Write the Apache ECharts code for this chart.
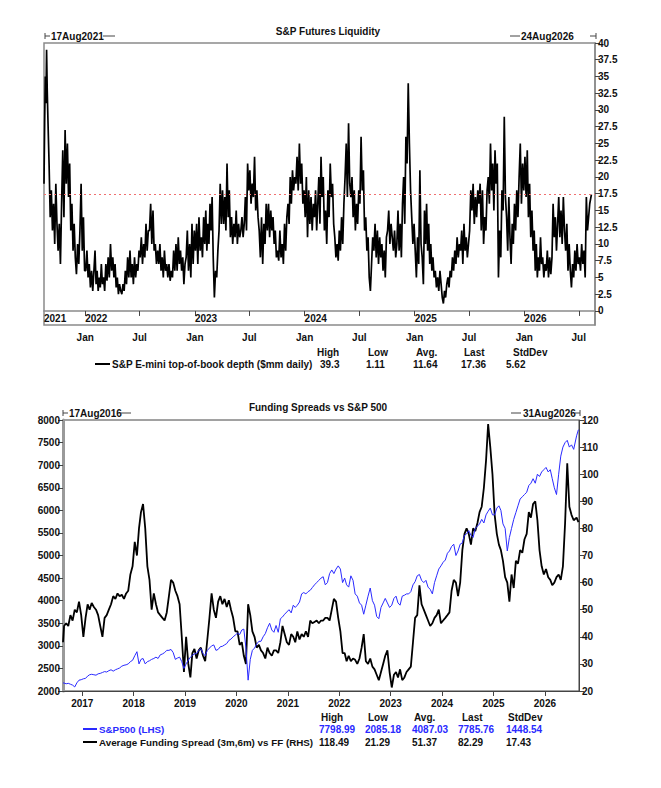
<!DOCTYPE html>
<html>
<head>
<meta charset="utf-8">
<script src="https://cdn.jsdelivr.net/npm/echarts@6/dist/echarts.min.js"></script>
<style>
  html, body { margin: 0; padding: 0; background: #fff; }
  #chart { width: 661px; height: 788px; }
</style>
</head>
<body>
<div id="chart"></div>
<script>
// ---- top panel: S&P E-mini top-of-book depth, values per month from Aug 2021 ----
const depth2021 = [
  [19, 28, 35, 31, 39, 33, 29],
  [22, 14, 18, 12, 16, 10, 19, 13],
  [9, 13, 7, 16, 24, 14, 27, 19],
  [25, 17, 22, 12, 16, 9, 13, 8],
  [5.5, 10, 7, 12, 19, 9, 14, 6],
];
const depth2022 = [
  [6, 9, 5, 7, 3.5, 6, 3, 6],
  [9, 4, 6, 3, 5, 3.5, 7, 4],
  [5, 3, 7, 4.5, 8, 5, 10, 6],
  [8, 5, 7, 3.5, 5, 2.5, 4, 3],
  [2.5, 4, 3, 6, 4, 8, 5, 9],
  [5, 7, 4, 8, 5, 7, 6, 9],
  [8, 11, 7, 10, 8, 13, 9, 12],
  [12, 16, 10, 15, 9, 10, 7, 9],
  [7, 10, 6, 8, 5, 9, 6, 7],
  [5, 7, 4.5, 6, 5, 9, 6, 10],
  [6, 11, 7, 9, 6, 8, 4, 7],
  [8, 12, 6, 10, 5, 13, 7, 12],
];
const depth2023 = [
  [9, 13, 7, 14, 9, 11, 8, 14],
  [10, 15, 9, 13, 10, 16, 12, 17],
  [8, 2, 6, 5, 9, 12, 19, 13],
  [18, 13, 17, 12, 22, 14, 18, 11],
  [14, 10, 13, 11, 15, 10, 13, 11],
  [12, 14, 11, 13, 17, 12, 22, 18],
  [21, 16, 19, 17, 23, 15, 18, 14],
  [12, 8, 14, 7, 13, 10, 16, 12],
  [16, 11, 15, 12, 14, 10, 12, 8],
  [9, 7.5, 12, 8, 10, 7, 13, 9],
  [14, 16, 13, 20, 16, 21, 18, 20],
  [19, 23, 18, 25, 19, 22, 16, 18],
];
const depth2024 = [
  [14, 20, 11, 18, 13, 17, 12, 16],
  [14, 18, 12, 16, 20, 13, 23, 17],
  [20, 12, 15, 10, 18, 14, 22, 17],
  [19, 13, 11, 8, 10, 7.5, 12, 9],
  [14, 10, 16, 20, 25, 17, 28, 19],
  [17, 20, 14, 18, 12, 16, 13, 18],
  [16, 26, 18, 21, 12, 14, 9, 11],
  [5, 3, 7, 11, 9, 13, 8, 12],
  [7, 11, 8, 10, 6, 9, 5, 11],
  [12, 15, 10, 13, 11, 9, 12, 8],
  [10, 15, 9, 13, 8, 16, 20, 13],
  [26, 22, 34, 25, 18, 14, 10, 13],
];
const depth2025 = [
  [9, 5, 11, 7, 21, 10, 8, 4],
  [15, 10, 16, 9, 13, 7, 10, 6],
  [8, 5, 6, 3.5, 5, 3, 6, 4],
  [2, 1.11, 3, 2, 4, 5, 3.5, 6],
  [5, 8, 6, 9, 7, 11, 8, 10],
  [9, 12, 7, 13, 9, 11, 8, 10],
  [12, 18, 15, 19, 13, 17, 14, 18],
  [16, 19, 12, 18, 10, 14, 12, 18],
  [20, 16, 25, 18, 22, 15, 24, 19],
  [22, 5, 12, 8, 18, 15, 29, 17],
  [14, 9, 17, 11, 7, 13, 10, 16],
  [12, 18, 14, 20, 25, 16, 22, 18],
];
const depth2026 = [
  [23, 17, 24, 14, 19, 11, 15, 9],
  [12, 6, 10, 5, 8, 6, 11, 7],
  [8, 5, 7, 6, 9, 5, 8, 5.5],
  [8, 16, 11, 14, 9, 13, 17, 11],
  [15, 10, 17, 12, 9, 13, 6, 10],
  [6, 3.5, 7, 5, 9, 6, 10, 7],
  [8, 6, 10, 7, 9, 5, 17, 12],
  [16, 17.36],
];
const depthTicks = [0, 2.5, 5, 7.5, 10, 12.5, 15, 17.5, 20, 22.5, 25, 27.5, 30, 32.5, 35, 37.5, 40];
const depthName = "S&P E-mini top-of-book depth ($mm daily)";
const depthStats = ["39.3", "1.11", "11.64", "17.36", "5.62"];
const depthLast = 17.36;

// ---- bottom panel: two values per month from Aug 2016 ----
const spread2016 = [[38, 44], [45, 44], [48, 46], [50, 49], [53, 48]];
const spread2017 = [[40, 47], [52, 50], [52.5, 51], [50, 48], [44, 40], [47, 48], [50, 52], [55, 54], [56, 55], [55.5, 54], [56, 57], [63, 66]];
const spread2018 = [[75, 70], [80, 86], [89, 80], [66, 61], [50, 56], [52, 49], [48, 47], [46, 49], [55, 61], [60, 57], [55, 52], [40, 27]];
const spread2019 = [[40, 30], [25, 34], [35.5, 32], [35, 36], [33, 31], [39, 47], [56, 50], [47, 53], [55, 52], [54, 51], [53.5, 50], [47, 42]];
const spread2020 = [[42, 37], [38, 33], [30, 52], [48, 42], [40, 36], [37, 35], [34, 32], [36, 34], [33, 35], [35, 34], [38, 44], [41, 38]];
const spread2021 = [[37, 41], [40, 38], [42, 39], [41, 40], [42, 40], [46, 45], [45.5, 46], [45, 46], [46, 47], [47, 46], [50, 54], [53, 47]];
const spread2022 = [[42, 34], [34, 31], [33, 31], [32, 31.5], [30, 32], [36, 41], [31, 30], [32, 29], [28, 26], [24, 27], [30, 33], [35, 27]];
const spread2023 = [[21.3, 26], [27, 25], [28, 24], [25, 27], [28, 29], [38, 47], [48, 59], [52, 50], [48, 46], [44, 45], [47, 48], [50, 45]];
const spread2024 = [[46, 47], [48, 49], [57, 61], [60, 55], [60, 72], [78, 80], [78, 74], [80, 79], [82, 86], [88, 95], [105, 118.5], [110, 100]];
const spread2025 = [[85, 78], [74, 72], [68, 62], [60, 53], [63, 58], [68, 67], [72, 71], [76, 78], [86, 84], [89, 90], [83, 72], [66, 63]];
const spread2026 = [[65, 62], [61, 59], [60, 62], [63, 61], [66, 82], [104, 88], [85, 83], [84, 82.29]];

const spx2016 = [[2180, 2175], [2160, 2170], [2150, 2130], [2090, 2180], [2240, 2250]];
const spx2017 = [[2270, 2280], [2330, 2360], [2370, 2360], [2350, 2380], [2390, 2410], [2430, 2420], [2450, 2470], [2440, 2470], [2490, 2510], [2550, 2570], [2580, 2600], [2650, 2680]];
const spx2018 = [[2780, 2870], [2600, 2700], [2720, 2600], [2650, 2670], [2700, 2720], [2750, 2720], [2800, 2820], [2850, 2900], [2900, 2920], [2850, 2700], [2730, 2750], [2650, 2500]];
const spx2019 = [[2600, 2680], [2750, 2790], [2820, 2830], [2900, 2940], [2830, 2780], [2900, 2950], [3000, 3020], [2900, 2920], [2980, 2990], [3020, 3050], [3120, 3150], [3200, 3240]];
const spx2020 = [[3280, 3250], [3350, 3370], [2950, 2240], [2700, 2900], [2950, 3040], [3100, 3100], [3200, 3270], [3400, 3500], [3350, 3300], [3450, 3300], [3600, 3640], [3700, 3750]];
const spx2021 = [[3800, 3730], [3900, 3850], [3900, 3970], [4150, 4180], [4150, 4200], [4230, 4290], [4350, 4400], [4450, 4500], [4530, 4350], [4400, 4600], [4680, 4600], [4700, 4770]];
const spx2022 = [[4700, 4400], [4500, 4350], [4300, 4550], [4450, 4150], [4100, 3950], [3900, 3700], [3900, 4100], [4280, 4000], [3900, 3650], [3600, 3850], [3950, 4050], [3950, 3850]];
const spx2023 = [[3900, 4050], [4100, 3950], [3900, 4100], [4120, 4150], [4150, 4200], [4350, 4420], [4550, 4580], [4450, 4400], [4450, 4300], [4250, 4150], [4400, 4550], [4700, 4770]];
const spx2024 = [[4850, 4900], [5050, 5100], [5200, 5250], [5000, 5100], [5250, 5280], [5450, 5480], [5550, 5450], [5400, 5600], [5650, 5700], [5800, 5720], [5900, 5980], [6050, 5900]];
const spx2025 = [[5900, 6050], [6100, 6000], [5700, 5600], [5100, 5400], [5600, 5800], [5950, 6100], [6250, 6300], [6350, 6400], [6550, 6600], [6700, 6600], [6800, 6750], [6850, 6900]];
const spx2026 = [[6950, 6850], [6900, 6700], [6500, 6350], [6800, 7200], [7400, 7500], [7550, 7400], [7450, 7350], [7650, 7785.76]];

const spxName = "S&P500 (LHS)";
const spreadName = "Average Funding Spread (3m,6m) vs FF (RHS)";
const spxStats = ["7798.99", "2085.18", "4087.03", "7785.76", "1448.54"];
const spreadStats = ["118.49", "21.29", "51.37", "82.29", "17.43"];
const statHeaders = ["High", "Low", "Avg.", "Last", "StdDev"];

const topYears = [2022, 2023, 2024, 2025, 2026];
const botYears = [2017, 2018, 2019, 2020, 2021, 2022, 2023, 2024, 2025, 2026];

const topStart = Date.UTC(2021, 7, 17), topEnd = Date.UTC(2026, 7, 24), topDataEnd = Date.UTC(2026, 7, 12);
const botStart = Date.UTC(2016, 7, 17), botEnd = Date.UTC(2026, 7, 31), botDataEnd = Date.UTC(2026, 7, 27);

// spread each month's readings over that month (clipped to first/last date)
function monthly(months, start, end) {
  const d = new Date(start);
  const y = d.getUTCFullYear(), m = d.getUTCMonth();
  const out = [];
  months.forEach((vals, k) => {
    const a = Math.max(Date.UTC(y, m + k, 1), start);
    const b = Math.min(Date.UTC(y, m + k + 1, 1), end);
    const n = vals.length;
    vals.forEach((v, i) => {
      const f = k === 0 ? i / n : k === months.length - 1 ? (i + 1) / n : (i + 0.5) / n;
      out.push([a + (b - a) * f, v]);
    });
  });
  return out;
}

const depthData = monthly([].concat(depth2021, depth2022, depth2023, depth2024, depth2025, depth2026), topStart, topDataEnd);
const spreadData = monthly([].concat(spread2016, spread2017, spread2018, spread2019, spread2020, spread2021, spread2022, spread2023, spread2024, spread2025, spread2026), botStart, botDataEnd);
const spxData = monthly([].concat(spx2016, spx2017, spx2018, spx2019, spx2020, spx2021, spx2022, spx2023, spx2024, spx2025, spx2026), botStart, botDataEnd);

const halfYearTicks = [];
topYears.forEach((y) => halfYearTicks.push(Date.UTC(y, 0, 1), Date.UTC(y, 6, 1)));
const topYearTicks = [topStart].concat(topYears.map((y) => Date.UTC(y, 0, 1)));
const botYearTicks = botYears.map((y) => Date.UTC(y, 0, 1));

const FONT = '"Liberation Sans", Arial, sans-serif';
const FS = 10;
const boldText = { fontFamily: FONT, fontWeight: "bold", fontSize: FS, color: "#111" };
const topLegendText = Object.assign({}, boldText, { padding: [0, 0, 0, -3], lineHeight: 12 });
const botLegendText = Object.assign({}, topLegendText, { fontSize: 9.8 });
const frame = "#8a8a8a";
const dark = "#444";
const blue = "#2a2aff";

function txt(text, x, y, opts = {}) {
  return {
    type: "text", x, y, silent: true,
    style: {
      text, font: `bold ${FS}px ${FONT}`, fill: opts.color || "#111",
      align: opts.align || "left", verticalAlign: "middle",
    },
  };
}
function hline(x1, x2, y, color = dark) {
  return { type: "line", silent: true, shape: { x1, y1: y, x2, y2: y }, style: { stroke: color, lineWidth: 1 } };
}
function vline(x, y1, y2, color = dark) {
  return { type: "line", silent: true, shape: { x1: x, y1, x2: x, y2 }, style: { stroke: color, lineWidth: 1 } };
}

const graphics = [
  txt("S&P Futures Liquidity", 328, 31, { align: "center" }),
  vline(45, 33, 39), hline(45, 50, 36), txt("17Aug2021", 51, 36), hline(103, 115, 36),
  hline(510, 520, 36), txt("24Aug2026", 521, 36), hline(590, 596, 36), vline(596, 33, 39),
  txt("Funding Spreads vs S&P 500", 318, 407, { align: "center" }),
  vline(63, 410, 416), hline(63, 68, 413), txt("17Aug2016", 69, 413), hline(120, 131, 413),
  hline(511, 521, 413), txt("31Aug2026", 523, 413), hline(575, 580, 413), vline(580, 410, 416),
];
const topHeadX = [317, 368, 416, 464, 513];
const topValX = [320, 366, 413, 461, 506];
statHeaders.forEach((h, i) => {
  graphics.push(txt(h, topHeadX[i], 352));
  graphics.push(txt(depthStats[i], topValX[i], 364));
});
const botHeadX = [321, 368, 414, 462, 508];
const botValX = [319, 365, 412, 458, 506];
statHeaders.forEach((h, i) => {
  graphics.push(txt(h, botHeadX[i], 717));
  graphics.push(txt(spxStats[i], botValX[i], 729, { color: blue }));
  graphics.push(txt(spreadStats[i], botValX[i], 742));
});

const monthFmt = (v) => (new Date(v).getUTCMonth() === 0 ? "Jan" : "Jul");
const yearFmt = (v) => String(new Date(v).getUTCFullYear());
const plainFmt = (v) => String(v);

const option = {
  animation: false,
  backgroundColor: "#fff",
  textStyle: { fontFamily: FONT },
  graphic: graphics,
  legend: [
    {
      data: [{ name: depthName, icon: "rect" }],
      left: 95, top: 358, padding: 0, itemWidth: 15, itemHeight: 2, itemGap: 2,
      selectedMode: false,
      textStyle: topLegendText,
    },
    {
      data: [
        { name: spxName, icon: "rect", textStyle: Object.assign({}, botLegendText, { color: blue }) },
        { name: spreadName, icon: "rect" },
      ],
      orient: "vertical",
      left: 83, top: 723, padding: 0, itemWidth: 14, itemHeight: 2, itemGap: 1,
      selectedMode: false,
      textStyle: botLegendText,
    },
  ],
  grid: [
    { left: 44, top: 43, width: 551, height: 282, show: true, borderColor: frame, borderWidth: 1.5 },
    { left: 63, top: 420, width: 516, height: 271, show: true, borderColor: dark, borderWidth: 1 },
  ],
  xAxis: [
    {
      gridIndex: 0, type: "value", min: topStart, max: topEnd,
      splitLine: { show: false },
      axisLine: { lineStyle: { color: frame, width: 1.5 } },
      axisTick: { customValues: halfYearTicks, length: 5, lineStyle: { color: dark } },
      axisLabel: Object.assign({ customValues: halfYearTicks, formatter: monthFmt, margin: 7 }, boldText),
    },
    {
      gridIndex: 0, type: "value", min: topStart, max: topEnd, position: "bottom",
      splitLine: { show: false },
      axisLine: { show: false }, axisTick: { show: false },
      axisLabel: Object.assign({ customValues: topYearTicks, formatter: yearFmt, inside: true, align: "left", margin: 2 }, boldText),
    },
    {
      gridIndex: 1, type: "value", min: botStart, max: botEnd,
      splitLine: { show: false },
      axisLine: { lineStyle: { color: dark, width: 1 } },
      axisTick: { customValues: botYearTicks, length: 5, lineStyle: { color: dark } },
      axisLabel: Object.assign({ customValues: botYearTicks, formatter: yearFmt, margin: 7 }, boldText),
    },
  ],
  yAxis: [
    {
      gridIndex: 0, type: "value", position: "right", min: -2.1, max: 40,
      splitLine: { show: false },
      axisLine: { show: true, lineStyle: { color: frame, width: 1.5 } },
      axisTick: { show: true, customValues: depthTicks, length: 5, lineStyle: { color: dark } },
      axisLabel: Object.assign({ customValues: depthTicks, formatter: plainFmt, margin: 3 }, boldText),
    },
    {
      gridIndex: 1, type: "value", position: "left", min: 2000, max: 8000, interval: 500,
      splitLine: { show: false },
      axisLine: { show: true, lineStyle: { color: "#9a9a9a", width: 3 } },
      axisTick: { show: true, length: 5, lineStyle: { color: dark } },
      axisLabel: Object.assign({ formatter: plainFmt, margin: 3 }, boldText),
    },
    {
      gridIndex: 1, type: "value", position: "right", min: 20, max: 120, interval: 10,
      splitLine: { show: false },
      axisLine: { show: true, lineStyle: { color: dark, width: 1 } },
      axisTick: { show: true, length: 5, lineStyle: { color: dark } },
      axisLabel: Object.assign({ formatter: plainFmt, margin: 3 }, boldText),
    },
  ],
  series: [
    {
      name: depthName, type: "line", xAxisIndex: 0, yAxisIndex: 0,
      data: depthData, symbol: "none", color: "#000",
      lineStyle: { color: "#000", width: 1.7 },
      markLine: {
        silent: true, symbol: "none", label: { show: false },
        lineStyle: { color: "#f07070", type: [2, 3], width: 1.2 },
        data: [{ yAxis: depthLast }],
      },
    },
    {
      name: spreadName, type: "line", xAxisIndex: 2, yAxisIndex: 2,
      data: spreadData, symbol: "none", color: "#000",
      lineStyle: { color: "#000", width: 1.8 },
    },
    {
      name: spxName, type: "line", xAxisIndex: 2, yAxisIndex: 1,
      data: spxData, symbol: "none", color: blue,
      lineStyle: { color: blue, width: 1 },
    },
  ],
};

const chart = echarts.init(document.getElementById("chart"), null, { renderer: "svg" });
chart.setOption(option);
</script>
</body>
</html>
